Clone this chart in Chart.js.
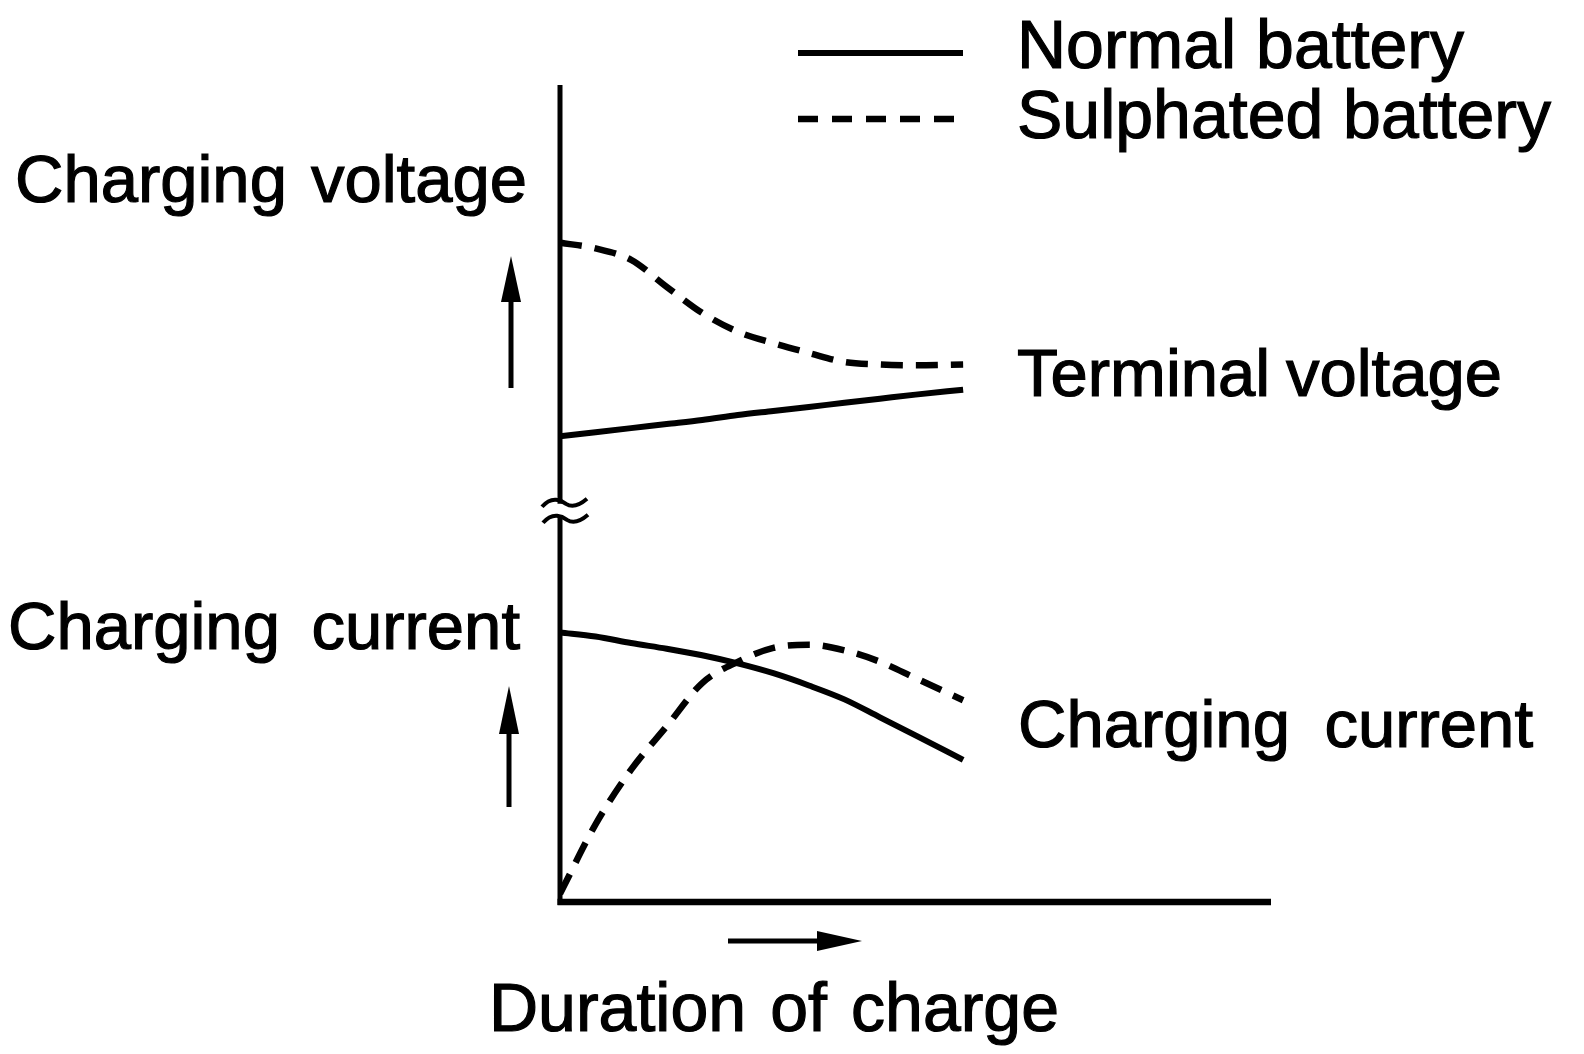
<!DOCTYPE html>
<html>
<head>
<meta charset="utf-8">
<script src="https://cdn.jsdelivr.net/npm/chart.js@4/dist/chart.umd.min.js"></script>
<style>
  html, body { margin: 0; padding: 0; background: #fff; }
  #wrap { position: relative; width: 1584px; height: 1054px; }
</style>
</head>
<body>
<div id="wrap"><canvas id="c"></canvas></div>
<script>
// ---- data (schematic units) ----
const duration         = [0, 5, 10, 15, 20, 25, 30, 35, 40, 45, 50, 56.7];
const normalVoltage    = [57.0, 57.5, 58.0, 58.5, 59.0, 59.6, 60.1, 60.6, 61.1, 61.6, 62.1, 62.7];
const sulphatedVoltage = [80.7, 80.0, 78.6, 75.3, 72.1, 69.8, 68.4, 67.2, 66.1, 65.8, 65.7, 65.8];
const normalCurrent    = [33.0, 32.5, 31.7, 31.0, 30.2, 29.2, 28.0, 26.5, 24.8, 22.6, 20.4, 17.4];
const sulphatedCurrent = [1.0, 9.5, 16.2, 21.5, 26.8, 29.4, 31.1, 31.5, 30.8, 29.4, 27.4, 24.7];
const seriesNames = ['Normal battery', 'Sulphated battery'];
const axisBreakAt = 48;   // y value where the axis is broken

const FONT = '"Liberation Sans", Arial, Helvetica, sans-serif';
const pts = arr => duration.map((x, i) => ({ x, y: arr[i] }));

const solidStyle  = { borderColor: '#000', borderWidth: 6, borderDash: [] };
const dashedStyle = { borderColor: '#000', borderWidth: 6.5, borderDash: [22, 13] };

function fittedText(ctx, text, left, right, baseline, size) {
  ctx.font = size + 'px ' + FONT;
  const words = text.split(' ');
  const wordW = words.map(w => ctx.measureText(w).width);
  const total = wordW.reduce((a, b) => a + b, 0);
  const gap = words.length > 1 ? (right - left - total) / (words.length - 1) : 0;
  let x = left;
  ctx.textAlign = 'left';
  ctx.textBaseline = 'alphabetic';
  ctx.lineWidth = 1.2;
  ctx.setLineDash([]);
  words.forEach((w, i) => {
    ctx.fillText(w, x, baseline);
    ctx.strokeText(w, x, baseline);
    x += wordW[i] + gap;
  });
}

function arrow(ctx, x1, y1, x2, y2, headLen, headHalf, lw) {
  const ang = Math.atan2(y2 - y1, x2 - x1);
  const bx = x2 - headLen * Math.cos(ang), by = y2 - headLen * Math.sin(ang);
  ctx.save();
  ctx.lineWidth = lw; ctx.strokeStyle = '#000'; ctx.fillStyle = '#000';
  ctx.beginPath(); ctx.moveTo(x1, y1); ctx.lineTo(bx, by); ctx.stroke();
  ctx.beginPath();
  ctx.moveTo(x2, y2);
  ctx.lineTo(bx + headHalf * Math.sin(ang), by - headHalf * Math.cos(ang));
  ctx.lineTo(bx - headHalf * Math.sin(ang), by + headHalf * Math.cos(ang));
  ctx.closePath(); ctx.fill();
  ctx.restore();
}

function tilde(ctx, cx, cy) {
  ctx.beginPath();
  ctx.moveTo(cx - 22, cy + 4);
  ctx.bezierCurveTo(cx - 12, cy - 8, cx - 2, cy - 2, cx + 2, cy + 1);
  ctx.bezierCurveTo(cx + 8, cy + 5, cx + 16, cy + 2, cx + 23, cy - 4);
  ctx.stroke();
}

const decorations = {
  id: 'decorations',
  afterDraw(chart) {
    const { ctx, chartArea: a, scales } = chart;
    ctx.save();
    ctx.strokeStyle = '#000';
    ctx.fillStyle = '#000';
    ctx.lineCap = 'butt';
    const x0 = a.left;
    const yb = scales.y.getPixelForValue(axisBreakAt);
    // y axis with break
    ctx.lineWidth = 5;
    ctx.beginPath();
    ctx.moveTo(x0, a.top); ctx.lineTo(x0, yb - 6);
    ctx.moveTo(x0, yb + 7); ctx.lineTo(x0, a.bottom + 3);
    ctx.stroke();
    ctx.lineWidth = 4;
    tilde(ctx, x0 + 4, yb - 7);
    tilde(ctx, x0 + 5, yb + 9);
    // x axis
    ctx.lineWidth = 6.5;
    ctx.beginPath();
    ctx.moveTo(x0 - 2.5, a.bottom); ctx.lineTo(a.right, a.bottom);
    ctx.stroke();

    // direction arrows
    arrow(ctx, 511, 388, 511, 256, 46, 10, 5);
    arrow(ctx, 509, 807, 509, 686, 48, 10, 5);
    arrow(ctx, 728, 941, 862, 941, 45, 10, 5);

    // legend
    const ds = chart.data.datasets;
    [[ds[0], 53], [ds[2], 119]].forEach(([d, y], i) => {
      ctx.save();
      ctx.lineWidth = d.borderWidth;
      ctx.setLineDash(i === 0 ? [] : [20, 14]);
      ctx.beginPath(); ctx.moveTo(798, y); ctx.lineTo(i === 0 ? 963 : 957, y); ctx.stroke();
      ctx.restore();
    });
    fittedText(ctx, seriesNames[0], 1017, 1464, 68, 68);
    fittedText(ctx, seriesNames[1], 1017, 1551, 138, 68);

    // labels
    fittedText(ctx, 'Charging voltage', 15, 527, 202, 67);
    fittedText(ctx, 'Terminal voltage', 1017, 1502, 396, 67);
    fittedText(ctx, 'Charging current', 8, 520, 649, 67);
    fittedText(ctx, 'Charging current', 1018, 1533, 747, 67);
    fittedText(ctx, 'Duration of charge', 489, 1059, 1031, 68);
    ctx.restore();
  }
};

new Chart(document.getElementById('c'), {
  type: 'line',
  data: {
    datasets: [
      Object.assign({ label: seriesNames[0] + ' – terminal voltage', data: pts(normalVoltage) }, solidStyle),
      Object.assign({ label: seriesNames[0] + ' – charging current', data: pts(normalCurrent) }, solidStyle),
      Object.assign({ label: seriesNames[1] + ' – terminal voltage', data: pts(sulphatedVoltage) }, dashedStyle),
      Object.assign({ label: seriesNames[1] + ' – charging current', data: pts(sulphatedCurrent) }, dashedStyle)
    ]
  },
  options: {
    responsive: true,
    maintainAspectRatio: false,
    animation: false,
    layout: { padding: { left: 560, right: 313, top: 85, bottom: 152 } },
    elements: {
      point: { radius: 0, hoverRadius: 0 },
      line: { cubicInterpolationMode: 'monotone', borderCapStyle: 'butt', borderJoinStyle: 'round', fill: false }
    },
    scales: {
      x: { type: 'linear', min: 0, max: 100, display: false },
      y: { type: 'linear', min: 0, max: 100, display: false }
    },
    plugins: { legend: { display: false }, tooltip: { enabled: false } }
  },
  plugins: [decorations]
});
</script>
</body>
</html>
